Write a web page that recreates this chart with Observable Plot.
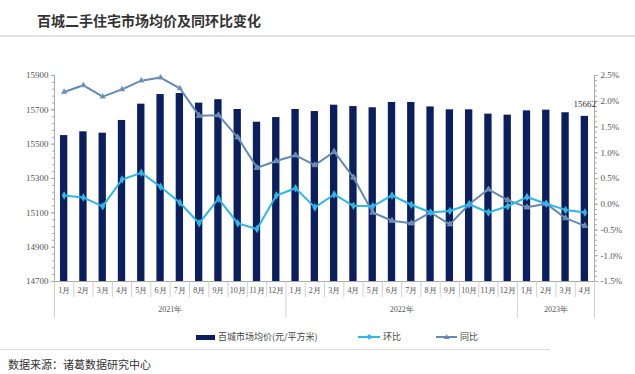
<!DOCTYPE html>
<html>
<head>
<meta charset="utf-8">
<script src="https://cdn.jsdelivr.net/npm/d3@7"></script>
<script src="https://cdn.jsdelivr.net/npm/@observablehq/plot@0.6"></script>
<style>
  html, body { margin: 0; padding: 0; background: #fff; }
  body { width: 635px; height: 374px; position: relative; overflow: hidden; font-family: "Noto Sans CJK SC", sans-serif; }
  #title { position: absolute; left: 0; top: 0; width: 635px; height: 35px; border-bottom: 2px solid #e3e3e3; }
  #title span { position: absolute; left: 37px; top: 11px; font-size: 14px; font-weight: bold; color: #333; line-height: 18px; letter-spacing: 0px; }
  #chart { position: absolute; left: 0; top: 37px; }
  #chart svg text { font-family: "Liberation Serif", "DejaVu Serif", serif; }
  .leg { position: absolute; font-size: 9px; color: #444; line-height: 12px; top: 331px; }
  #legline { position: absolute; left: 0; top: 349px; width: 550px; height: 0; border-top: 1.5px solid #dcdcdc; }
  #source { position: absolute; left: 8px; top: 357px; font-size: 11px; color: #333; line-height: 15px; }
</style>
</head>
<body>
<div id="title"><span>百城二手住宅市场均价及同环比变化</span></div>
<div id="chart"></div>
<div id="legend"></div>
<div id="legline"></div>
<div id="source">数据来源：诸葛数据研究中心</div>
<script>
// ---- data ----
const monthLabels = ["1月","2月","3月","4月","5月","6月","7月","8月","9月","10月","11月","12月",
                     "1月","2月","3月","4月","5月","6月","7月","8月","9月","10月","11月","12月",
                     "1月","2月","3月","4月"];
const yearLabels = ["2021年","2022年","2023年"];
const yearMonths = [12, 12, 4];
const prices = [15550,15572,15564,15638,15733,15789,15795,15739,15759,15702,15628,15655,
                15702,15690,15727,15719,15712,15743,15743,15717,15700,15700,15675,15669,
                15694,15698,15683,15662];
const mom = [0.17,0.13,-0.04,0.48,0.61,0.34,0.03,-0.37,0.11,-0.37,-0.48,0.17,
             0.31,-0.06,0.19,-0.03,-0.04,0.17,-0.01,-0.16,-0.13,0.00,-0.16,-0.04,
             0.14,0.01,-0.11,-0.16];
const yoy = [2.18,2.31,2.09,2.23,2.40,2.46,2.25,1.72,1.73,1.30,0.71,0.84,
             0.95,0.76,1.02,0.52,-0.16,-0.32,-0.37,-0.16,-0.39,0.00,0.29,0.08,
             -0.06,0.01,-0.27,-0.42];
const leftTicks = [14700,14900,15100,15300,15500,15700,15900];
const rightTicks = [-1.5,-1.0,-0.5,0.0,0.5,1.0,1.5,2.0,2.5];
const legendItems = ["百城市场均价(元/平方米)","环比","同比"];

// ---- styles ----
const barColor = "#0b1f5e";
const momColor = "#2fb6e6";
const yoyColor = "#6489b4";
const axisColor = "#aaa";
const serif = "Liberation Serif, DejaVu Serif, serif";

// ---- dual axis mapping ----
const yMin = 14700, yMax = 15900, pMin = -1.5, pMax = 2.5;
const toLeft = p => yMin + (p - pMin) * (yMax - yMin) / (pMax - pMin);
const fromLeft = v => pMin + (v - yMin) * (pMax - pMin) / (yMax - yMin);

const W = 635, H = 283, mT = 38, mB = 39, mL = 54, mR = 41;
const unitPerPx = (yMax - yMin) / (H - mT - mB);

const rows = prices.map((v, i) => ({i, label: monthLabels[i], price: v, mom: mom[i], yoy: yoy[i]}));
const seps = d3.range(0, monthLabels.length + 1);
const yearBounds = [0];
yearMonths.forEach(n => yearBounds.push(yearBounds[yearBounds.length - 1] + n));
const years = yearLabels.map((t, k) => ({t, x: (yearBounds[k] + yearBounds[k + 1]) / 2}));
const minorLeft = d3.range(yMin, yMax + 1, 40);
const minorRight = d3.range(pMin, pMax + 0.001, 0.1).map(toLeft);

const chart = Plot.plot({
  width: W, height: H,
  marginTop: mT, marginBottom: mB, marginLeft: mL, marginRight: mR,
  style: {fontFamily: serif, background: "white", overflow: "visible"},
  x: {domain: [0, monthLabels.length], axis: null},
  y: {domain: [yMin, yMax], axis: null},
  marks: [
    // bars
    Plot.rectY(rows, {x1: d => d.i + 0.31, x2: d => d.i + 0.69, y1: yMin, y2: "price", fill: barColor}),
    // bottom baseline
    Plot.ruleY([yMin], {stroke: axisColor, strokeWidth: 1}),
    // left axis
    Plot.ruleX([0], {y1: yMin, y2: yMax, stroke: axisColor}),
    Plot.axisY(minorLeft, {anchor: "left", label: null, tickSize: 2, tickFormat: () => "", stroke: axisColor}),
    Plot.axisY(leftTicks, {anchor: "left", label: null, tickSize: 3, tickPadding: 3, fontSize: 9, fill: "#555", stroke: axisColor, tickFormat: d => String(d)}),
    // right axis
    Plot.ruleX([monthLabels.length], {y1: yMin, y2: yMax, stroke: axisColor}),
    Plot.axisY(minorRight, {anchor: "right", label: null, tickSize: 2, tickFormat: () => "", stroke: axisColor}),
    Plot.axisY(rightTicks.map(toLeft), {anchor: "right", label: null, tickSize: 3, tickPadding: 3, fontSize: 9, fill: "#555", stroke: axisColor,
      tickFormat: v => fromLeft(v).toFixed(1) + "%"}),
    // category separators
    Plot.ruleX(seps.filter(s => !yearBounds.includes(s)), {x: d => d, y1: yMin, y2: yMin - 16 * unitPerPx, stroke: "#c4c4c4", strokeWidth: 0.8}),
    Plot.ruleX(yearBounds, {x: d => d, y1: yMin, y2: yMin - 37 * unitPerPx, stroke: "#c4c4c4", strokeWidth: 0.8}),
    // month labels
    Plot.text(rows, {x: d => d.i + 0.5, y: yMin, text: "label", dy: 9, fontSize: 8, fill: "#555"}),
    // year labels
    Plot.text(years, {x: "x", y: yMin, text: "t", dy: 28, fontSize: 8, fill: "#555"}),
    // 同比 line
    Plot.line(rows, {x: d => d.i + 0.5, y: d => toLeft(d.yoy), stroke: yoyColor, strokeWidth: 2}),
    Plot.dot(rows, {x: d => d.i + 0.5, y: d => toLeft(d.yoy), symbol: "triangle", r: 2.2, fill: yoyColor, stroke: "#9bb3cf", strokeWidth: 0.5}),
    // 环比 line
    Plot.line(rows, {x: d => d.i + 0.5, y: d => toLeft(d.mom), stroke: momColor, strokeWidth: 2}),
    Plot.dot(rows, {x: d => d.i + 0.5, y: d => toLeft(d.mom), symbol: "diamond", r: 2.6, fill: momColor}),
    // last value label
    Plot.text([rows[rows.length - 1]], {x: d => d.i + 0.5, y: "price", text: d => String(d.price), dy: -12, fontSize: 9, fill: "#333"})
  ]
});
document.getElementById("chart").appendChild(chart);

// ---- legend ----
const legend = document.getElementById("legend");
const legDefs = [
  {text: legendItems[0], x: 196, w: 19, kind: "bar", color: barColor},
  {text: legendItems[1], x: 358, w: 22, kind: "line", color: momColor, marker: "◆"},
  {text: legendItems[2], x: 436, w: 21, kind: "line", color: yoyColor, marker: "▲"}
];
legDefs.forEach(d => {
  const sw = document.createElement("div");
  sw.style.position = "absolute";
  sw.style.left = d.x + "px";
  sw.style.width = d.w + "px";
  if (d.kind === "bar") {
    sw.style.top = "334.5px"; sw.style.height = "5px"; sw.style.background = d.color;
  } else {
    sw.style.top = "336px"; sw.style.height = "2px"; sw.style.background = d.color;
    const m = document.createElement("div");
    m.textContent = d.marker;
    m.style.cssText = `position:absolute;left:${d.w/2 - 3}px;top:-5px;font-size:6px;line-height:12px;color:${d.color};`;
    sw.appendChild(m);
  }
  legend.appendChild(sw);
  const t = document.createElement("div");
  t.className = "leg";
  t.style.left = (d.x + d.w + 3) + "px";
  t.textContent = d.text;
  legend.appendChild(t);
});
</script>
</body>
</html>
